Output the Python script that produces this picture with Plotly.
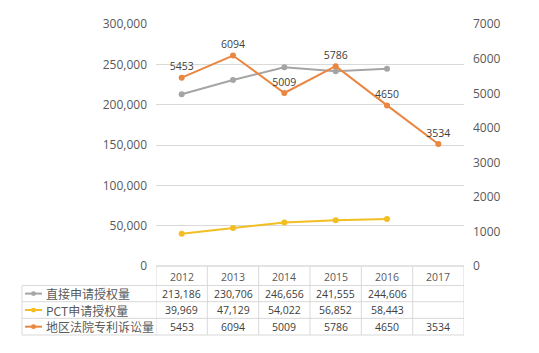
import plotly.graph_objects as go

years = ["2012", "2013", "2014", "2015", "2016", "2017"]
direct_grants = [213186, 230706, 246656, 241555, 244606, None]
pct_grants = [39969, 47129, 54022, 56852, 58443, None]
lawsuits = [5453, 6094, 5009, 5786, 4650, 3534]
series_names = ["直接申请授权量", "PCT申请授权量", "地区法院专利诉讼量"]
series_colors = ["#A5A5A5", "#F2BE22", "#EA8640"]
left_ticks = [0, 50000, 100000, 150000, 200000, 250000, 300000]
right_ticks = [0, 1000, 2000, 3000, 4000, 5000, 6000, 7000]

W, H = 539, 353
def py(y):
    return 1 - y / H
def px(x):
    return x / W

grid_col = "#D9D9D9"
text_col = "#595959"
fnum = "Open Sans"

fig = go.Figure()
fig.add_trace(go.Scatter(x=years, y=direct_grants, mode="lines+markers", name=series_names[0],
                         line=dict(color=series_colors[0], width=2), marker=dict(size=6, color=series_colors[0]),
                         yaxis="y", connectgaps=False))
fig.add_trace(go.Scatter(x=years, y=pct_grants, mode="lines+markers", name=series_names[1],
                         line=dict(color=series_colors[1], width=2), marker=dict(size=6, color=series_colors[1]),
                         yaxis="y"))
fig.add_trace(go.Scatter(x=years, y=lawsuits, mode="lines+markers+text", name=series_names[2],
                         line=dict(color=series_colors[2], width=2), marker=dict(size=6, color=series_colors[2]),
                         text=[str(v) for v in lawsuits], textposition="top center",
                         textfont=dict(family=fnum, size=10.5, color="#404040"),
                         yaxis="y2"))

x0, x1 = 156, 464
y_top, y_axis = 16, 270
fig.update_layout(
    width=W, height=H, margin=dict(l=0, r=0, t=0, b=0),
    paper_bgcolor="white", plot_bgcolor="white", showlegend=False,
    xaxis=dict(domain=[px(x0), px(x1)], type="category", range=[-0.5, 5.5],
               showticklabels=False, showgrid=False, zeroline=False, showline=False),
    yaxis=dict(domain=[py(y_axis), py(y_top)], range=[0, 300000], tickvals=left_ticks,
               tickformat=",d", showgrid=True, gridcolor=grid_col, gridwidth=1, zeroline=False,
               tickfont=dict(family=fnum, size=12, color=text_col), ticklabelstandoff=8, showline=False),
    yaxis2=dict(overlaying="y", side="right", range=[0, 7000], tickvals=right_ticks,
                showgrid=False, zeroline=False, showline=False,
                tickfont=dict(family=fnum, size=12, color=text_col), ticklabelstandoff=8),
)

shapes = []
line_style = dict(color=grid_col, width=1)
# x axis line
shapes.append(dict(type="line", xref="paper", yref="paper", x0=px(x0), x1=px(x1), y0=py(y_axis), y1=py(y_axis),
                   line=dict(color="#C8C8C8", width=1)))
# table horizontal lines
row_lines = [290.5, 307.5, 325, 342.5]
tbl_left = 22
for yl in row_lines:
    shapes.append(dict(type="line", xref="paper", yref="paper", x0=px(tbl_left), x1=px(x1), y0=py(yl), y1=py(yl), line=line_style))
# vertical lines between categories
for k in range(len(years) + 1):
    shapes.append(dict(type="line", xref="x", yref="paper", x0=k - 0.5, x1=k - 0.5, y0=py(y_axis), y1=py(row_lines[-1]), line=line_style))
shapes.append(dict(type="line", xref="paper", yref="paper", x0=px(tbl_left), x1=px(tbl_left), y0=py(row_lines[0]), y1=py(row_lines[-1]), line=line_style))

annotations = []
# header years
for i, yr in enumerate(years):
    annotations.append(dict(x=i, y=py((y_axis + row_lines[0]) / 2 + 1), xref="x", yref="paper", text=yr, showarrow=False,
                            font=dict(family=fnum, size=10.5, color=text_col), xanchor="center", yanchor="middle"))
rows = [direct_grants, pct_grants, lawsuits]
fmts = ["{:,}", "{:,}", "{}"]
for r, vals in enumerate(rows):
    yc = py((row_lines[r] + row_lines[r + 1]) / 2)
    for i, v in enumerate(vals):
        if v is None:
            continue
        annotations.append(dict(x=i, y=yc, xref="x", yref="paper", text=fmts[r].format(v), showarrow=False,
                                font=dict(family=fnum, size=10.5, color="#404040"), xanchor="center", yanchor="middle"))
    # legend key
    shapes.append(dict(type="line", xref="paper", yref="paper", x0=px(25), x1=px(42), y0=yc, y1=yc,
                       line=dict(color=series_colors[r], width=2)))
    shapes.append(dict(type="circle", xref="paper", yref="paper", x0=px(31), x1=px(36), y0=yc - 2.5 / H, y1=yc + 2.5 / H,
                       fillcolor=series_colors[r], line=dict(color=series_colors[r], width=0)))
    annotations.append(dict(x=px(44), y=yc, xref="paper", yref="paper", text=series_names[r], showarrow=False,
                            font=dict(family="Noto Sans CJK SC", size=12, color=text_col), xanchor="left", yanchor="middle"))

fig.update_layout(shapes=shapes, annotations=annotations)
fig.write_html("out.html")
